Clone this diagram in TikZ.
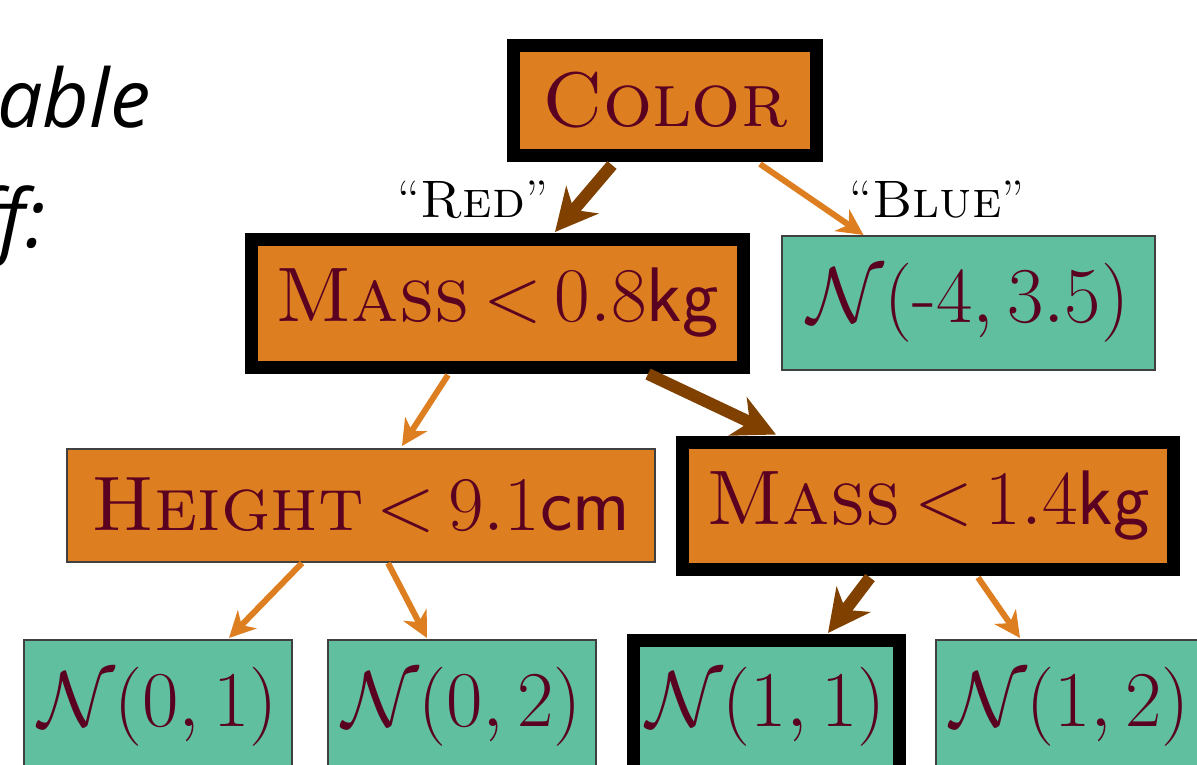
\RequirePackage{fix-cm}
\documentclass[tikz,border=0pt]{standalone}
\usepackage{amsmath}
\usepackage{fontspec}
\newfontfamily\slidefont{Open Sans}
\usepackage{tikz}
\usetikzlibrary{arrows.meta,calc}
\definecolor{splitorange}{HTML}{DD7E20}
\definecolor{leafteal}{HTML}{5FBF9F}
\definecolor{pathbrown}{HTML}{7F4000}
\definecolor{labelmaroon}{HTML}{5A0020}
\newcommand{\lessthan}{\mkern3mu{<}\mkern3mu}

\begin{document}
\begin{tikzpicture}[
  splitbox/.style={rectangle,draw=black!75,line width=0.6pt,fill=splitorange,text=labelmaroon,
                   outer sep=0pt,inner sep=0pt,font=\fontsize{22}{26}\selectfont},
  leafbox/.style={rectangle,draw=black!75,line width=0.6pt,fill=leafteal,text=labelmaroon,
                  outer sep=0pt,inner sep=0pt,minimum height=1.34cm,font=\fontsize{22.5}{27}\selectfont},
  onpath/.style={draw=black,line width=0.13cm},
  offedge/.style={-{Stealth[length=0.26cm,width=0.26cm,inset=0.08cm]},line width=0.06cm,splitorange},
  pathedge/.style={-{Stealth[length=0.42cm,width=0.42cm,inset=0.13cm]},line width=0.12cm,pathbrown},
  branch/.style={anchor=base,font=\fontsize{15}{18}\selectfont},
  slidetext/.style={anchor=base east,inner sep=0pt,font=\slidefont\itshape\fontsize{23}{27}\selectfont}
]
\useasboundingbox (0,0) rectangle (11.97,-7.64);
\clip (0,0) rectangle (11.97,-7.64);

% text of the slide, cut off by the crop
\node[slidetext] (tabletext) at (1.51,-1.27) {table};
\node[slidetext] (fftext) at (0.46,-2.47) {ff:};

% splits
\node[splitbox,onpath,minimum width=3.03cm,minimum height=1.10cm] (color) at (6.65,-1.00) {\textsc{Color}};
\node[splitbox,onpath,minimum width=4.92cm,minimum height=1.28cm] (massA) at (4.97,-3.03) {$\text{\textsc{Mass}}\lessthan 0.8$\textsf{kg}};
\node[splitbox,minimum width=5.88cm,minimum height=1.13cm] (height) at (3.61,-5.055) {$\text{\textsc{Height}}\lessthan 9.1$\textsf{cm}};
\node[splitbox,onpath,minimum width=4.91cm,minimum height=1.27cm] (massB) at (9.28,-5.06) {$\text{\textsc{Mass}}\lessthan 1.4$\textsf{kg}};

% leaves
\node[leafbox,minimum width=3.73cm] (blueleaf) at (9.685,-3.03) {$\mathcal{N}(\text{-}4,3.5)$};
\node[leafbox,minimum width=2.68cm,anchor=north] (leafA) at (1.58,-6.40) {$\mathcal{N}(0,1)$};
\node[leafbox,minimum width=2.68cm,anchor=north] (leafB) at (4.62,-6.40) {$\mathcal{N}(0,2)$};
\node[leafbox,onpath,minimum width=2.66cm,anchor=north] (leafC) at (7.66,-6.40) {$\mathcal{N}(1,1)$};
\node[leafbox,minimum width=2.68cm,anchor=north] (leafD) at (10.70,-6.40) {$\mathcal{N}(1,2)$};

% branch labels
\node[branch] (redlabel) at (4.73,-2.17) {``\textsc{Red}''};
\node[branch] (bluelabel) at (9.37,-2.17) {``\textsc{Blue}''};

% edges
\draw[pathedge] ([xshift=-0.53cm,yshift=-0.10cm]color.south) -- ([xshift=0.58cm,yshift=0.07cm]massA.north);
\draw[offedge] ([xshift=0.95cm,yshift=-0.09cm]color.south) -- ([xshift=-1.05cm,yshift=0.01cm]blueleaf.north);
\draw[offedge] ([xshift=-0.49cm,yshift=-0.08cm]massA.south) -- ([xshift=0.41cm,yshift=0.03cm]height.north);
\draw[pathedge] ([xshift=1.51cm,yshift=-0.07cm]massA.south) -- ([xshift=-1.52cm,yshift=0.08cm]massB.north);
\draw[offedge] ([xshift=-0.59cm,yshift=-0.01cm]height.south) -- ([xshift=0.71cm,yshift=0.02cm]leafA.north);
\draw[offedge] ([xshift=0.27cm,yshift=-0.01cm]height.south) -- ([xshift=-0.35cm,yshift=0.02cm]leafB.north);
\draw[pathedge] ([xshift=-0.58cm,yshift=-0.08cm]massB.south) -- ([xshift=0.62cm,yshift=0.07cm]leafC.north);
\draw[offedge] ([xshift=0.50cm,yshift=-0.08cm]massB.south) -- ([xshift=-0.50cm,yshift=0.02cm]leafD.north);
\end{tikzpicture}
\end{document}
